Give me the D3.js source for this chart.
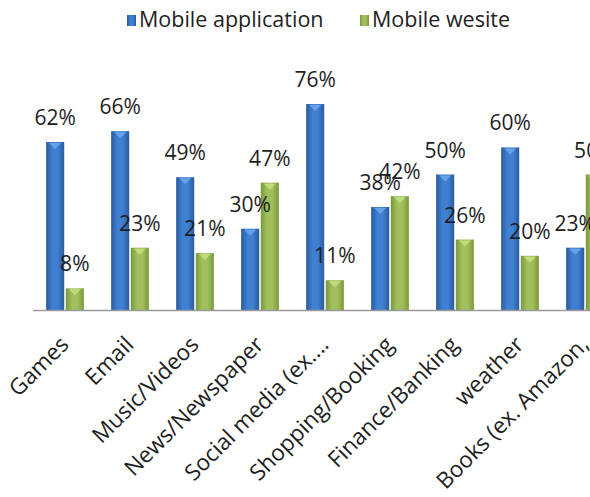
<!DOCTYPE html>
<html>
<head>
<meta charset="utf-8">
<script src="https://d3js.org/d3.v7.min.js"></script>
<style>
  body { margin: 0; background: #fff; }
  text { font-family: "Open Sans", sans-serif; fill: #1e1e1e; }
</style>
</head>
<body>
<svg id="chart"></svg>
<script>
const categories = ["Games", "Email", "Music/Videos", "News/Newspaper", "Social media (ex....",
                    "Shopping/Booking", "Finance/Banking", "weather", "Books (ex. Amazon,"];
const seriesNames = ["Mobile application", "Mobile wesite"];
const appValues = [62, 66, 49, 30, 76, 38, 50, 60, 23];
const webValues = [8, 23, 21, 47, 11, 42, 26, 20, 50];

const WIDTH = 590, HEIGHT = 497;
const BASE_Y = 310;

const svg = d3.select('#chart')
  .attr('width', WIDTH)
  .attr('height', HEIGHT);

const defs = svg.append('defs');
function grad(id, edge, mid) {
  const g = defs.append('linearGradient').attr('id', id)
    .attr('x1', '0%').attr('x2', '100%').attr('y1', '0%').attr('y2', '0%');
  g.append('stop').attr('offset', '0%').attr('stop-color', edge);
  g.append('stop').attr('offset', '35%').attr('stop-color', mid);
  g.append('stop').attr('offset', '65%').attr('stop-color', mid);
  g.append('stop').attr('offset', '100%').attr('stop-color', edge);
}
grad('gBlue', '#2a5a9c', '#3f80d2');
grad('gGreen', '#7a9838', '#a0c05e');

const x = d3.scaleBand()
  .domain(categories)
  .range([32.5, 32.5 + 65 * categories.length])
  .paddingInner(0.42)
  .paddingOuter(0.21);

const inner = d3.scaleBand()
  .domain(seriesNames)
  .range([0, x.bandwidth()])
  .paddingInner(0.08);

const y = d3.scaleLinear()
  .domain([0, 80])
  .range([BASE_Y, BASE_Y - 80 * 2.71]);

const data = categories.map((c, i) => ({ cat: c, vals: [appValues[i], webValues[i]] }));
const fills = ['url(#gBlue)', 'url(#gGreen)'];
const tops = ['#6fa8ec', '#c6e27f'];

const groups = svg.append('g').selectAll('g')
  .data(data)
  .join('g')
  .attr('transform', d => 'translate(' + x(d.cat) + ',0)');

groups.selectAll('rect')
  .data(d => d.vals.map((v, j) => ({ v, s: seriesNames[j], j })))
  .join('rect')
  .attr('x', d => inner(d.s))
  .attr('y', d => y(d.v))
  .attr('width', inner.bandwidth())
  .attr('height', d => BASE_Y - y(d.v))
  .attr('fill', d => fills[d.j]);

// small bevel triangle on bar tops
groups.selectAll('path.bevel')
  .data(d => d.vals.map((v, j) => ({ v, s: seriesNames[j], j })))
  .join('path')
  .attr('class', 'bevel')
  .attr('d', d => {
    const x0 = inner(d.s), w = inner.bandwidth(), t = y(d.v);
    return 'M' + (x0 + 3) + ',' + (t + 1) + 'L' + (x0 + w - 3) + ',' + (t + 1) +
           'L' + (x0 + w / 2) + ',' + (t + 7) + 'Z';
  })
  .attr('fill', d => tops[d.j])
  .attr('opacity', 0.85);

groups.selectAll('text.val')
  .data(d => d.vals.map((v, j) => ({ v, s: seriesNames[j], j })))
  .join('text')
  .attr('class', 'val')
  .attr('x', d => inner(d.s) + inner.bandwidth() / 2)
  .attr('y', d => y(d.v) - 17)
  .attr('text-anchor', 'middle')
  .attr('font-size', 21)
  .text(d => d.v + '%');

// baseline axis
const xAxis = d3.axisBottom(x).tickSize(0).tickFormat('');
svg.append('g')
  .attr('transform', 'translate(0,' + BASE_Y + ')')
  .call(xAxis)
  .call(g => g.select('.domain').attr('stroke', '#9a9a9a').attr('stroke-width', 1.3));

// category labels, rotated
svg.append('g').selectAll('text')
  .data(categories)
  .join('text')
  .attr('text-anchor', 'end')
  .attr('font-size', 22.5)
  .attr('transform', d => 'translate(' + (x(d) + x.bandwidth() / 2 + 5) + ',' + (BASE_Y + 36) + ') rotate(-45)')
  .text(d => d);

// legend
const legendX = [127, 360];
const legendFill = ['url(#gBlue)', 'url(#gGreen)'];
const legend = svg.append('g').selectAll('g')
  .data(seriesNames)
  .join('g')
  .attr('transform', (d, i) => 'translate(' + legendX[i] + ',15)');
legend.append('rect')
  .attr('width', 9).attr('height', 11)
  .attr('fill', (d, i) => legendFill[i]);
legend.append('text')
  .attr('x', 12).attr('y', 12)
  .attr('font-size', 21.5)
  .text(d => d);
</script>
</body>
</html>
